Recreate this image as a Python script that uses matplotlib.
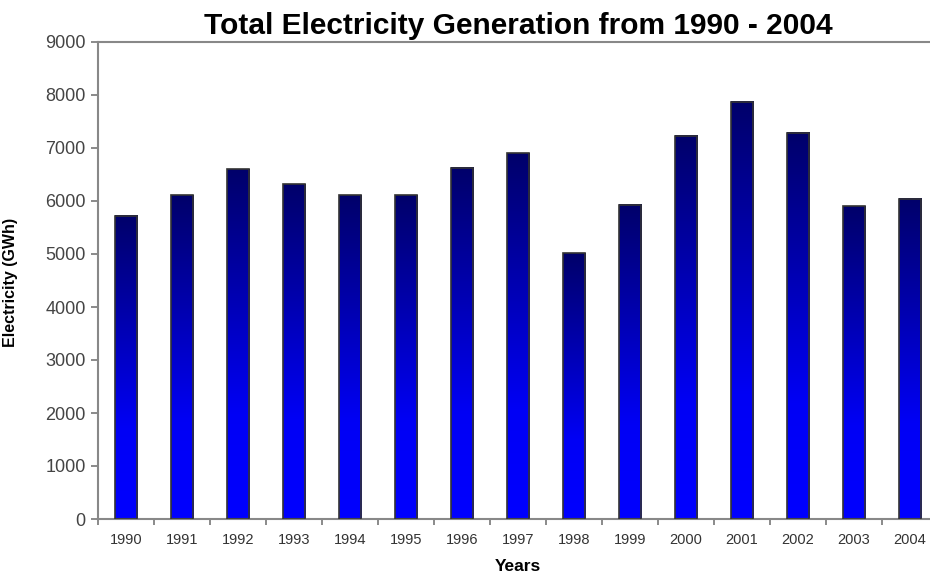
import numpy as np
import matplotlib
matplotlib.use("Agg")
import matplotlib.pyplot as plt
from matplotlib.colors import LinearSegmentedColormap

years = ["1990", "1991", "1992", "1993", "1994", "1995", "1996", "1997",
         "1998", "1999", "2000", "2001", "2002", "2003", "2004"]
generation = [5720, 6110, 6600, 6320, 6110, 6110, 6630, 6900,
              5010, 5930, 7230, 7870, 7290, 5905, 6040]
y_ticks = [0, 1000, 2000, 3000, 4000, 5000, 6000, 7000, 8000, 9000]

plt.rcParams['font.family'] = ['Liberation Sans', 'DejaVu Sans']

fig = plt.figure(figsize=(9.3, 5.75), dpi=100)
ax = fig.add_axes([98/930, 56/575, 840/930, 477/575])

x = np.arange(len(years))
bars = ax.bar(x, generation, width=0.4, facecolor='none',
              edgecolor='#333333', linewidth=1.2, zorder=3)

cmap = LinearSegmentedColormap.from_list(
    'grad', [(0.0, '#0000FF'), (0.3, '#0000F5'), (1.0, '#00006A')])
grad = np.linspace(0, 1, 256).reshape(-1, 1)
for b in bars:
    x0, y0 = b.get_x(), b.get_y()
    w, h = b.get_width(), b.get_height()
    ax.imshow(grad, cmap=cmap, origin='lower', aspect='auto',
              extent=[x0, x0 + w, y0, y0 + h], zorder=2, interpolation='bilinear')

ax.set_xlim(-0.5, len(years) - 0.5)
ax.set_ylim(0, 9000)
ax.set_yticks(y_ticks)
ax.set_yticklabels([str(v) for v in y_ticks], fontsize=13, color='#444444')
ax.set_xticks(x)
ax.set_xticklabels(years, fontsize=10.5, color='#333333')
ax.set_xticks(np.arange(-0.5, len(years) - 0.4, 1.0), minor=True)
ax.tick_params(axis='x', which='major', length=0, pad=10)
ax.tick_params(axis='x', which='minor', length=4, width=1.2, color='#777777', direction='out')
ax.tick_params(axis='y', length=5, width=1.2, color='#777777', direction='out', pad=4)

for s in ['left', 'bottom', 'top']:
    ax.spines[s].set_color('#888888')
    ax.spines[s].set_linewidth(1.5)
ax.spines['right'].set_visible(False)

ax.set_title("Total Electricity Generation from 1990 - 2004", fontsize=21.5,
             fontweight='bold', pad=6)
ax.set_ylabel("Electricity (GWh)", fontsize=11.5, fontweight='bold')
ax.yaxis.set_label_coords(-80/840, 0.495)
ax.set_xlabel("Years", fontsize=12.5, fontweight='bold', labelpad=9)

fig.savefig("out.png", dpi=100)
